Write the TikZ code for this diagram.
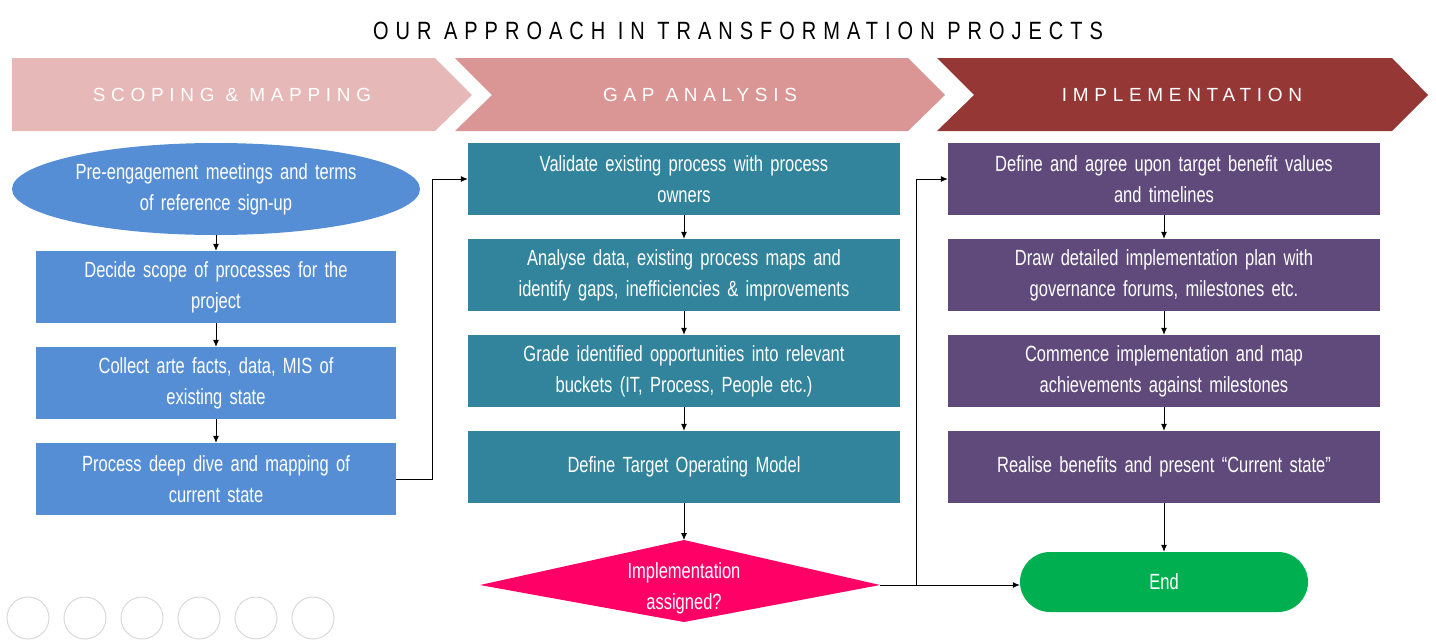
\documentclass[tikz,border=0pt]{standalone}
\usepackage{fontspec}
\setmainfont[FakeStretch=0.75]{Liberation Sans}
\newfontfamily\spaced[LetterSpace=30]{Liberation Sans}
\newfontfamily\spacedt[LetterSpace=28,FakeStretch=0.8]{Liberation Sans}
\usetikzlibrary{shapes.geometric,arrows.meta}
\definecolor{c1}{HTML}{E6B8B7}\definecolor{c2}{HTML}{DA9694}\definecolor{c3}{HTML}{953735}
\definecolor{blu}{HTML}{558ED5}\definecolor{teal}{HTML}{31849B}\definecolor{purp}{HTML}{604A7B}
\definecolor{pink}{HTML}{FF0066}\definecolor{grn}{HTML}{00B050}
\begin{document}
\begin{tikzpicture}[x=1pt,y=-1pt,
 box/.style={minimum width=360pt,minimum height=72pt,text width=350pt,align=center,text=white,font=\fontsize{22}{31}\selectfont,inner sep=0pt},
 bb/.style={box,fill=blu},tb/.style={box,fill=teal,minimum width=432pt,text width=425pt},pb/.style={box,fill=purp,minimum width=432pt,text width=425pt},
 arr/.style={-{Latex[length=7pt,width=6pt]},thick},
 hd/.style={text=white,font=\spaced\fontsize{19}{19}\selectfont}]
\useasboundingbox (0,0) rectangle (1436,641);
\node (title) at (738,31) {\spacedt\fontsize{25}{25}\selectfont OUR APPROACH IN TRANSFORMATION PROJECTS};
\fill[c1] (12,58)--(435,58)--(472,95)--(435,131)--(12,131)--cycle;
\fill[c2] (455,58)--(908,58)--(945,95)--(908,131)--(455,131)--(492,95)--cycle;
\fill[c3] (937,58)--(1392,58)--(1428,95)--(1392,131)--(937,131)--(974,95)--cycle;
\node[hd] (h1) at (232,95) {SCOPING \& MAPPING};
\node[hd] (h2) at (700,95) {GAP ANALYSIS};
\node[hd] (h3) at (1182,95) {IMPLEMENTATION};
\fill[blu] (216,189) ellipse (204pt and 46pt);
\node[box] (a0) at (216,189) {Pre-engagement meetings and terms\\of reference sign-up};
\coordinate (a0b) at (216,235);
\node[bb] (a1) at (216,287) {Decide scope of processes for the\\project};
\node[bb] (a2) at (216,383) {Collect arte facts, data, MIS of\\existing state};
\node[bb] (a3) at (216,479) {Process deep dive and mapping of\\current state};
\node[tb] (b1) at (684,179) {Validate existing process with process\\owners};
\node[tb] (b2) at (684,275) {Analyse data, existing process maps and\\identify gaps, inefficiencies \& improvements};
\node[tb] (b3) at (684,371) {Grade identified opportunities into relevant\\buckets (IT, Process, People etc.)};
\node[tb] (b4) at (684,467) {Define Target Operating Model};
\fill[pink] (480,585)--(684,540)--(880,585)--(684,622)--cycle;
\node[text=white,align=center,font=\fontsize{22}{31}\selectfont] (d) at (684,588) {Implementation\\assigned?};
\coordinate (dr) at (880,585); \coordinate (dt) at (684,540);
\node[pb] (c1n) at (1164,179) {Define and agree upon target benefit values\\and timelines};
\node[pb] (c2n) at (1164,275) {Draw detailed implementation plan with\\governance forums, milestones etc.};
\node[pb] (c3n) at (1164,371) {Commence implementation and map\\achievements against milestones};
\node[pb] (c4n) at (1164,467) {Realise benefits and present “Current state”};
\node[rounded corners=30pt,fill=grn,minimum width=288pt,minimum height=60pt,text=white,font=\fontsize{22}{31}\selectfont] (e) at (1164,582) {End};
\draw[arr] (a0b)--(a1); \draw[arr] (a1)--(a2); \draw[arr] (a2)--(a3);
\draw[arr] (a3.east)--(432,479)--(432,179)--(b1.west);
\draw[arr] (b1)--(b2); \draw[arr] (b2)--(b3); \draw[arr] (b3)--(b4); \draw[arr] (b4)--(dt);
\draw[arr] (dr)--(916,585)--(916,179)--(c1n.west);
\draw[arr] (dr)--(e.west|-dr);
\draw[arr] (c1n)--(c2n); \draw[arr] (c2n)--(c3n); \draw[arr] (c3n)--(c4n); \draw[arr] (c4n)--(e);
\foreach \i/\x in {1/28,2/85,3/142,4/199,5/256,6/313}
  \draw[black!15,line width=1pt] (\x,618) circle (21pt) node (ic\i) {};
\end{tikzpicture}
\end{document}
